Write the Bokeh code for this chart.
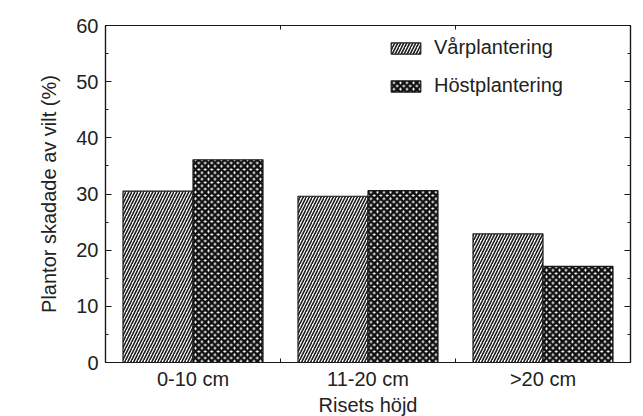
from bokeh.plotting import figure
from bokeh.models import (ColumnDataSource, FixedTicker, LinearAxis, Range1d, Legend, LegendItem)
from bokeh.embed import file_html
from bokeh.resources import INLINE

categories = ["0-10 cm", "11-20 cm", ">20 cm"]
positions = [1, 2, 3]
var_values = [30.5, 29.6, 22.9]     # Vårplantering
host_values = [36.1, 30.6, 17.1]    # Höstplantering
y_ticks = [0, 10, 20, 30, 40, 50, 60]
y_minor = [5, 15, 25, 35, 45, 55]
series_names = ["Vårplantering", "Höstplantering"]

FONT = "Liberation Sans"
TXT = "#222222"
INK = "#1a1a1a"
FS = "20px"

p = figure(frame_width=525, frame_height=337, output_backend="svg", toolbar_location=None,
           x_range=Range1d(0.5, 3.5), y_range=Range1d(0, 60),
           min_border_left=105, min_border_top=25, min_border_right=6, min_border_bottom=52)

bw = 0.4
off = bw / 2
src = ColumnDataSource(dict(x_var=[x - off for x in positions], x_host=[x + off for x in positions],
                            var=var_values, host=host_values))
r1 = p.vbar(x="x_var", top="var", width=bw, source=src, fill_color="white", line_color=INK,
            line_width=1.2, hatch_pattern="/", hatch_color=INK, hatch_scale=6, hatch_weight=1.6)
r2 = p.vbar(x="x_host", top="host", width=bw, source=src, fill_color="white", line_color=INK,
            line_width=1.2, hatch_pattern="x", hatch_color="#111111", hatch_scale=6.5, hatch_weight=2.6)

p.grid.visible = False
p.outline_line_color = INK
p.outline_line_width = 1.2

labels = {1: categories[0], 2: categories[1], 3: categories[2]}

def style_axis(ax, show_labels):
    ax.axis_line_color = INK
    ax.axis_line_width = 1.2
    ax.major_label_text_font = FONT
    ax.major_label_text_font_size = FS
    ax.major_label_text_color = TXT
    ax.axis_label_text_font = FONT
    ax.axis_label_text_font_size = FS
    ax.axis_label_text_font_style = "normal"
    ax.axis_label_text_color = TXT
    ax.major_tick_line_color = INK
    ax.minor_tick_line_color = INK
    ax.major_tick_line_width = 1.2
    if not show_labels:
        ax.major_label_text_font_size = "1px"
        ax.major_label_text_color = None
        ax.major_label_standoff = 0

# bottom x axis
xa = p.xaxis[0]
xa.ticker = FixedTicker(ticks=positions, minor_ticks=[1.5, 2.5])
xa.major_label_overrides = labels
xa.major_tick_in = 0
xa.major_tick_out = 0
xa.minor_tick_in = 4
xa.minor_tick_out = 0
xa.axis_label = "Risets höjd"
style_axis(xa, True)
xa.major_label_standoff = 5
xa.axis_label_standoff = 1

# left y axis
ya = p.yaxis[0]
ya.ticker = FixedTicker(ticks=y_ticks, minor_ticks=y_minor)
ya.major_tick_in = 6
ya.major_tick_out = 0
ya.minor_tick_in = 3
ya.minor_tick_out = 0
ya.axis_label = "Plantor skadade av vilt (%)"
style_axis(ya, True)
ya.major_label_standoff = 7
ya.axis_label_standoff = 13

# top and right axes (ticks only)
xt = LinearAxis(ticker=FixedTicker(ticks=positions, minor_ticks=[1.5, 2.5]),
                major_tick_in=0, major_tick_out=0, minor_tick_in=4, minor_tick_out=0)
style_axis(xt, False)
p.add_layout(xt, "above")
yr = LinearAxis(ticker=FixedTicker(ticks=y_ticks, minor_ticks=y_minor),
                major_tick_in=6, major_tick_out=0, minor_tick_in=3, minor_tick_out=0)
style_axis(yr, False)
p.add_layout(yr, "right")

legend = Legend(items=[LegendItem(label=series_names[0], renderers=[r1]),
                       LegendItem(label=series_names[1], renderers=[r2])],
                location=(282, 265), padding=0, margin=0, spacing=15,
                glyph_width=37, glyph_height=14, label_standoff=10,
                label_text_font=FONT, label_text_font_size=FS, label_text_color=TXT,
                border_line_color=None, background_fill_alpha=0)
p.add_layout(legend, "center")

open("out.html", "w").write(file_html(p, INLINE))
